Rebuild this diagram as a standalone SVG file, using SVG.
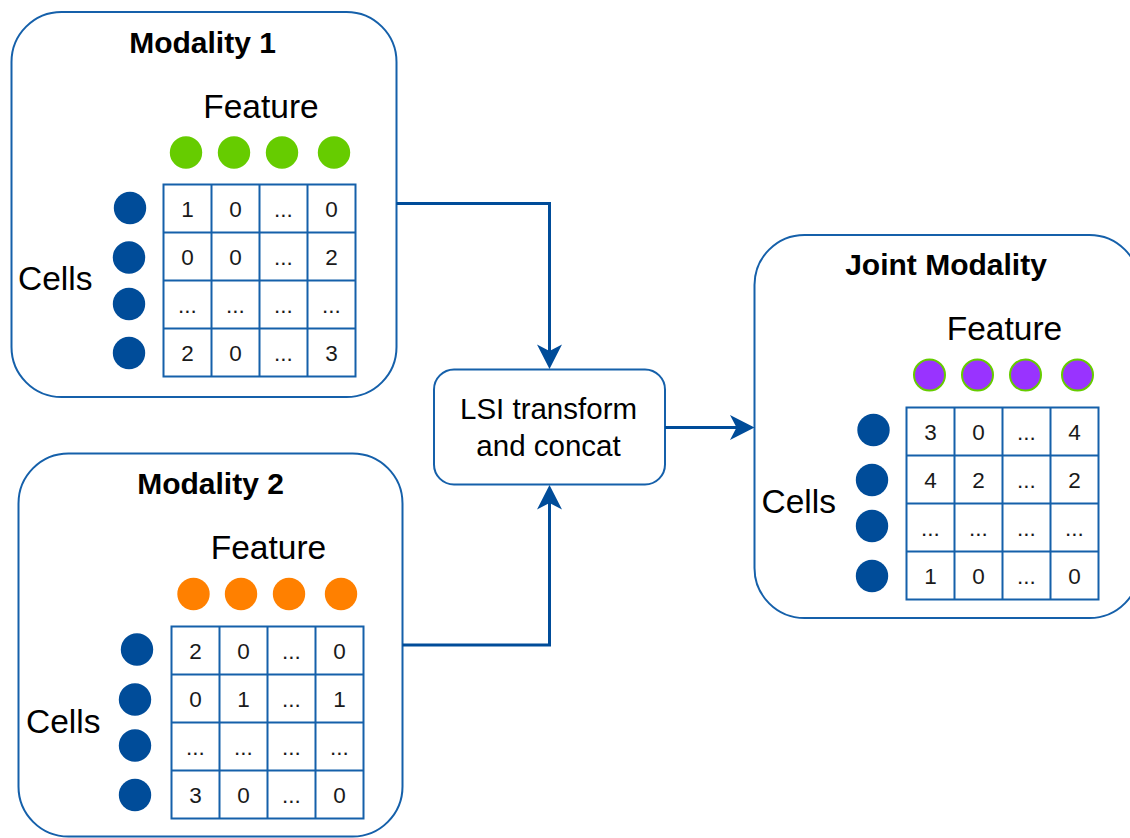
<svg xmlns="http://www.w3.org/2000/svg" width="1130" height="838" viewBox="0 0 1130 838">
  <defs>
    <style>
      .box { fill: #ffffff; stroke: #1560AA; stroke-width: 2; }
      .grid { fill: none; stroke: #1560AA; stroke-width: 2; }
      .title { font-family: "Liberation Sans", Arial, sans-serif; font-weight: bold; font-size: 30px; fill: #000; text-anchor: middle; }
      .label { font-family: "Liberation Sans", Arial, sans-serif; font-size: 33.5px; fill: #000; }
      .num { font-family: "Liberation Sans", Arial, sans-serif; font-size: 22.5px; fill: #1a1a1a; text-anchor: middle; }
      .proc { font-family: "Liberation Sans", Arial, sans-serif; font-size: 29.5px; fill: #000; text-anchor: middle; }
      .cell { fill: #004C99; }
      .green { fill: #66CC00; }
      .orange { fill: #FF8000; }
      .purple { fill: #9933FF; stroke: #66CC00; stroke-width: 2; }
      .wire { fill: none; stroke: #004C99; stroke-width: 3; }
      .head { fill: #004C99; }
    </style>
  </defs>

  <rect width="1130" height="838" fill="#ffffff"/>

  <!-- Modality 1 -->
  <g id="modality1">
    <rect class="box" x="11.5" y="12" width="385" height="385" rx="50"/>
    <text class="title" x="202.5" y="53">Modality 1</text>
    <text class="label" x="261" y="118" text-anchor="middle">Feature</text>
    <circle class="green" cx="186" cy="152.5" r="16.2"/>
    <circle class="green" cx="234" cy="152.5" r="16.2"/>
    <circle class="green" cx="282" cy="152.5" r="16.2"/>
    <circle class="green" cx="334" cy="152.5" r="16.2"/>
    <text class="label" x="18" y="290">Cells</text>
    <circle class="cell" cx="130" cy="208" r="16.2"/>
    <circle class="cell" cx="129" cy="257.5" r="16.2"/>
    <circle class="cell" cx="129" cy="304" r="16.2"/>
    <circle class="cell" cx="129" cy="353" r="16.2"/>
    <g class="grid">
      <rect x="163.5" y="184.5" width="192" height="192"/>
      <path d="M211.5 184.5V376.5M259.5 184.5V376.5M307.5 184.5V376.5M163.5 232.5H355.5M163.5 280.5H355.5M163.5 328.5H355.5"/>
    </g>
    <g class="num">
      <text x="187.5" y="216.5">1</text><text x="235.5" y="216.5">0</text><text x="283.5" y="216.5">...</text><text x="331.5" y="216.5">0</text>
      <text x="187.5" y="264.5">0</text><text x="235.5" y="264.5">0</text><text x="283.5" y="264.5">...</text><text x="331.5" y="264.5">2</text>
      <text x="187.5" y="312.5">...</text><text x="235.5" y="312.5">...</text><text x="283.5" y="312.5">...</text><text x="331.5" y="312.5">...</text>
      <text x="187.5" y="360.5">2</text><text x="235.5" y="360.5">0</text><text x="283.5" y="360.5">...</text><text x="331.5" y="360.5">3</text>
    </g>
  </g>

  <!-- Modality 2 -->
  <g id="modality2">
    <rect class="box" x="18.5" y="453.5" width="384" height="383" rx="50"/>
    <text class="title" x="210.5" y="494">Modality 2</text>
    <text class="label" x="268.5" y="559" text-anchor="middle">Feature</text>
    <circle class="orange" cx="193.5" cy="594" r="16.2"/>
    <circle class="orange" cx="241" cy="594" r="16.2"/>
    <circle class="orange" cx="289" cy="594" r="16.2"/>
    <circle class="orange" cx="341" cy="594" r="16.2"/>
    <text class="label" x="26" y="732.5">Cells</text>
    <circle class="cell" cx="137" cy="649.5" r="16.2"/>
    <circle class="cell" cx="135" cy="699.5" r="16.2"/>
    <circle class="cell" cx="135" cy="745.5" r="16.2"/>
    <circle class="cell" cx="135" cy="795" r="16.2"/>
    <g class="grid">
      <rect x="171.5" y="626.5" width="192" height="192"/>
      <path d="M219.5 626.5V818.5M267.5 626.5V818.5M315.5 626.5V818.5M171.5 674.5H363.5M171.5 722.5H363.5M171.5 770.5H363.5"/>
    </g>
    <g class="num">
      <text x="195.5" y="658.5">2</text><text x="243.5" y="658.5">0</text><text x="291.5" y="658.5">...</text><text x="339.5" y="658.5">0</text>
      <text x="195.5" y="706.5">0</text><text x="243.5" y="706.5">1</text><text x="291.5" y="706.5">...</text><text x="339.5" y="706.5">1</text>
      <text x="195.5" y="754.5">...</text><text x="243.5" y="754.5">...</text><text x="291.5" y="754.5">...</text><text x="339.5" y="754.5">...</text>
      <text x="195.5" y="802.5">3</text><text x="243.5" y="802.5">0</text><text x="291.5" y="802.5">...</text><text x="339.5" y="802.5">0</text>
    </g>
  </g>

  <!-- LSI step -->
  <g id="lsi">
    <rect class="box" x="434" y="369.5" width="231" height="115" rx="20"/>
    <text class="proc" x="548.5" y="418.5">LSI transform</text>
    <text class="proc" x="548.5" y="455.5">and concat</text>
  </g>

  <!-- Joint Modality -->
  <g id="joint">
    <rect class="box" x="754.5" y="235" width="385" height="383" rx="50"/>
    <text class="title" x="946" y="275">Joint Modality</text>
    <text class="label" x="1004.5" y="340" text-anchor="middle">Feature</text>
    <circle class="purple" cx="929.5" cy="375" r="15.5"/>
    <circle class="purple" cx="977.5" cy="375" r="15.5"/>
    <circle class="purple" cx="1025.5" cy="375" r="15.5"/>
    <circle class="purple" cx="1077.5" cy="375" r="15.5"/>
    <text class="label" x="761.5" y="513">Cells</text>
    <circle class="cell" cx="873.5" cy="430" r="16.2"/>
    <circle class="cell" cx="872" cy="480" r="16.2"/>
    <circle class="cell" cx="872" cy="526" r="16.2"/>
    <circle class="cell" cx="872" cy="576" r="16.2"/>
    <g class="grid">
      <rect x="906.5" y="407.5" width="192" height="192"/>
      <path d="M954.5 407.5V599.5M1002.5 407.5V599.5M1050.5 407.5V599.5M906.5 455.5H1098.5M906.5 503.5H1098.5M906.5 551.5H1098.5"/>
    </g>
    <g class="num">
      <text x="930.5" y="439.5">3</text><text x="978.5" y="439.5">0</text><text x="1026.5" y="439.5">...</text><text x="1074.5" y="439.5">4</text>
      <text x="930.5" y="487.5">4</text><text x="978.5" y="487.5">2</text><text x="1026.5" y="487.5">...</text><text x="1074.5" y="487.5">2</text>
      <text x="930.5" y="535.5">...</text><text x="978.5" y="535.5">...</text><text x="1026.5" y="535.5">...</text><text x="1074.5" y="535.5">...</text>
      <text x="930.5" y="583.5">1</text><text x="978.5" y="583.5">0</text><text x="1026.5" y="583.5">...</text><text x="1074.5" y="583.5">0</text>
    </g>
  </g>

  <!-- Connectors -->
  <g id="connectors">
    <path class="wire" d="M396.5 203.5H549.5V352"/>
    <path class="head" d="M549.5 369 L537 344.5 L549.5 351 L562 344.5 Z"/>
    <path class="wire" d="M402.5 645H549.5V502"/>
    <path class="head" d="M549.5 485 L537 509.5 L549.5 503 L562 509.5 Z"/>
    <path class="wire" d="M665 427.5H737"/>
    <path class="head" d="M754.5 427.5 L730 415 L736.5 427.5 L730 440 Z"/>
  </g>
</svg>
